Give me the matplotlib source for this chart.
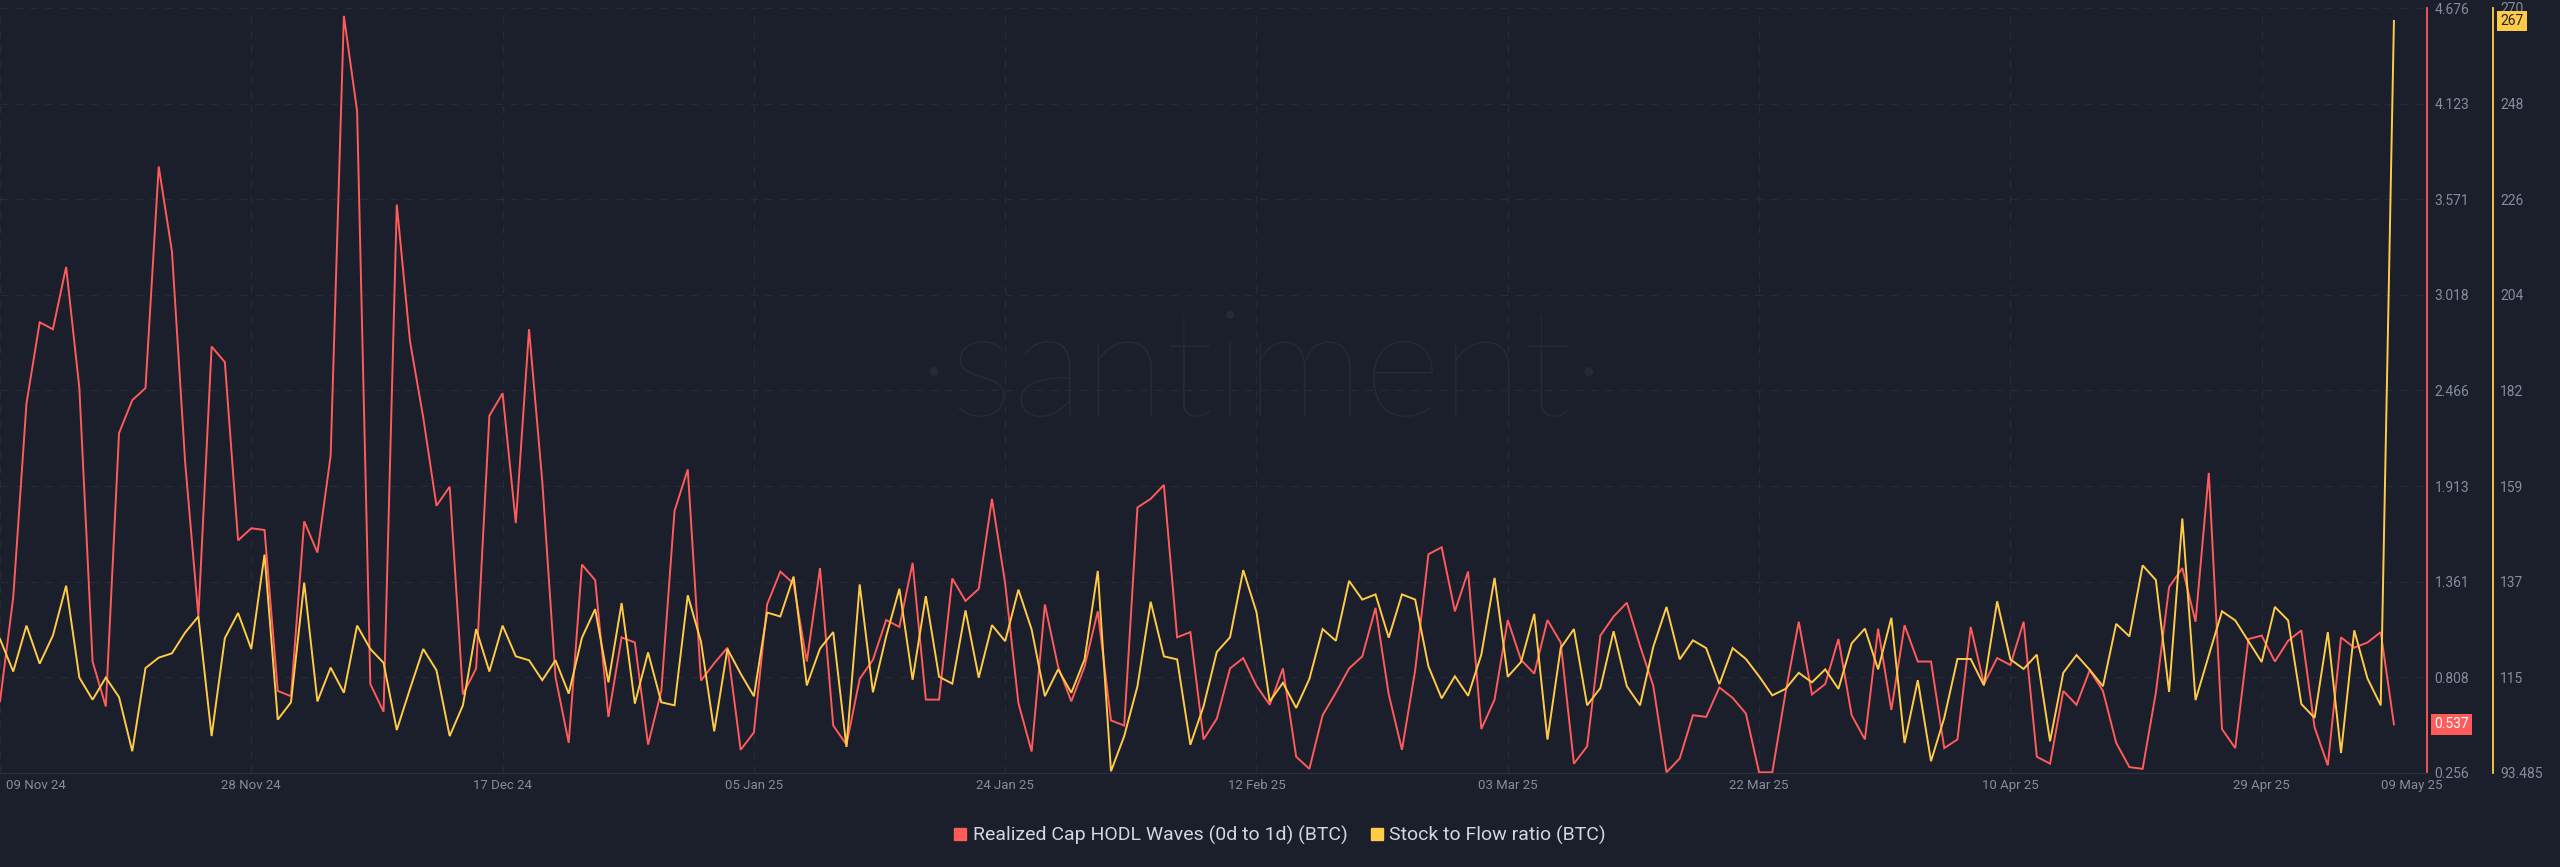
import matplotlib
matplotlib.use('Agg')
import matplotlib.pyplot as plt
from matplotlib.lines import Line2D
from matplotlib.transforms import blended_transform_factory, offset_copy
import numpy as np
import pandas as pd

# ---------------- data ----------------
start_date = '2024-11-09'

hodl_0d_1d = [
    0.67, 1.27, 2.39, 2.86, 2.82, 3.18, 2.48, 0.90, 0.64, 2.22,
    2.41, 2.48, 3.76, 3.27, 2.05, 1.16, 2.72, 2.63, 1.60, 1.67,
    1.66, 0.73, 0.70, 1.71, 1.53, 2.09, 4.63, 4.08, 0.77, 0.61,
    3.54,
    2.75, 2.31, 1.80, 1.91, 0.71, 0.86, 2.32, 2.45, 1.70, 2.82,
    1.94, 0.81, 0.43, 1.46, 1.37, 0.58, 1.04, 1.01, 0.42, 0.73,
    1.77, 2.01, 0.79, 0.89, 0.98, 0.39, 0.49, 1.23, 1.42, 1.35,
    0.90,
    1.44, 0.53, 0.42, 0.80, 0.91, 1.14, 1.10, 1.47, 0.68, 0.68,
    1.38, 1.25, 1.32, 1.84, 1.35, 0.66, 0.38, 1.23, 0.87, 0.67,
    0.87, 1.19, 0.56, 0.53, 1.79, 1.84, 1.92, 1.04, 1.07, 0.45,
    0.57, 0.86, 0.92, 0.76, 0.65, 0.86, 0.35, 0.28, 0.59, 0.72,
    0.86, 0.93, 1.21, 0.71, 0.39, 0.85, 1.52, 1.56, 1.19, 1.42,
    0.51, 0.68, 1.14, 0.91, 0.83, 1.14, 1.01, 0.31, 0.41, 1.05,
    1.16, 1.24, 0.99, 0.76, 0.26, 0.34, 0.59, 0.58, 0.75, 0.69,
    0.60, 0.26, 0.26, 0.72, 1.13, 0.71, 0.77, 1.03, 0.59, 0.45,
    1.09, 0.62, 1.11, 0.90, 0.90, 0.40, 0.45, 1.10, 0.77, 0.92,
    0.88,
    1.13, 0.35, 0.31, 0.73, 0.65, 0.85, 0.73, 0.43, 0.29, 0.28,
    0.72, 1.33, 1.44, 1.13, 1.99, 0.51, 0.40, 1.03, 1.05, 0.90,
    1.02, 1.08, 0.52, 0.30, 1.04, 0.98, 1.01, 1.07, 0.537,
]

stock_to_flow = [
    124.4, 116.9, 127.5, 118.7, 125.2, 136.7, 115.5, 110.4, 115.5, 111.0,
    98.5, 117.7, 120.1, 121.1, 125.9, 129.6, 102.0, 124.6, 130.4, 122.1,
    143.9, 105.8, 109.8, 137.4, 110.0, 117.8, 112.0, 127.5, 122.1, 118.9,
    103.4,
    112.9, 122.1, 117.2, 102.0, 109.1, 126.7, 116.9, 127.5, 120.4, 119.5,
    114.9, 119.5, 111.8, 124.7, 131.3, 114.4, 132.7, 109.5, 121.3, 109.8,
    109.1, 134.5, 123.8, 103.1, 122.1, 116.4, 111.2, 130.5, 129.6, 138.8,
    113.7,
    122.2, 126.0, 99.5, 137.0, 112.1, 125.0, 136.0, 115.0, 134.3, 115.7,
    114.1, 131.0, 115.5, 127.6, 123.9, 135.8, 126.6, 111.2, 117.4, 112.0,
    119.7, 140.1, 93.9, 102.0, 113.5, 133.0, 120.4, 119.7, 100.0, 108.9,
    121.4, 124.8, 140.3, 130.6, 110.0, 114.3, 108.5, 115.2, 126.7, 124.0,
    137.8, 133.5, 134.7, 124.7, 134.7, 133.5, 118.1, 110.7, 115.8, 111.3,
    120.8, 138.5, 115.7, 119.1, 130.2, 101.2, 122.3, 126.7, 109.1, 113.1,
    126.2, 113.5, 109.1, 122.6, 131.8, 119.7, 124.1, 122.3, 114.0, 122.3,
    119.8, 115.8, 111.4, 112.9, 116.6, 114.4, 117.4, 112.9, 123.4, 126.8,
    117.4, 129.3, 100.4, 114.9, 96.2, 106.2, 119.8, 119.8, 113.7, 133.1,
    119.7,
    117.5, 120.8, 100.8, 116.6, 120.7, 117.3, 113.5, 127.9, 125.0, 141.4,
    138.0, 112.2, 152.2, 110.3, 120.6, 130.8, 128.7, 123.9, 119.1, 131.8,
    128.7, 109.4, 106.2, 126.0, 98.1, 126.4, 115.3, 109.1, 267.0,
]

xtick_dates = ['2024-11-09', '2024-11-28', '2024-12-17', '2025-01-05',
               '2025-01-24', '2025-02-12', '2025-03-03', '2025-03-22',
               '2025-04-10', '2025-04-29', '2025-05-09']
xtick_labels = ['09 Nov 24', '28 Nov 24', '17 Dec 24', '05 Jan 25',
                '24 Jan 25', '12 Feb 25', '03 Mar 25', '22 Mar 25',
                '10 Apr 25', '29 Apr 25', '09 May 25']
red_tick_labels = ['0.256', '0.808', '1.361', '1.913', '2.466',
                   '3.018', '3.571', '4.123', '4.676']
yellow_tick_labels = ['93.485', '115', '137', '159', '182',
                      '204', '226', '248', '270']
red_range = (0.256, 4.676)
yellow_range = (93.485, 270.0)
series_names = ['Realized Cap HODL Waves (0d to 1d) (BTC)',
                'Stock to Flow ratio (BTC)']

dates = pd.date_range(start_date, periods=len(hodl_0d_1d), freq='D')
xt = pd.to_datetime(xtick_dates)

# ---------------- style ----------------
BG = '#1b1e2b'
RED = '#ff5b5b'
YEL = '#ffcb47'
GRID = '#262a3b'
TICK = '#858c9f'
LEG = '#d3d6de'

plt.rcParams['font.family'] = ['Roboto', 'DejaVu Sans']

W, H = 2560, 867
fig = plt.figure(figsize=(W / 100, H / 100), dpi=100, facecolor=BG)
left_px, right_px, top_px, bottom_px = 0, 2427, 8, 773
ax = fig.add_axes([left_px / W, 1 - bottom_px / H,
                   (right_px - left_px) / W, (bottom_px - top_px) / H])
ax.set_facecolor(BG)

# watermark
ax.text(0.5196, 0.52, '\u00b7santiment\u00b7', transform=ax.transAxes,
        ha='center', va='center', fontsize=108, color='#252938',
        family=['Lato', 'DejaVu Sans'], fontweight='light', zorder=0.5)

# red series
ax.plot(dates, hodl_0d_1d, color=RED, lw=1.4, zorder=3,
        solid_joinstyle='miter')
ax.set_ylim(*red_range)
ax.set_xlim(dates[0], dates[0] + pd.Timedelta(days=183.5))

ax.grid(axis='y', color=GRID, linestyle=(0, (6, 6)), lw=0.9, zorder=1)
for d in xt[:-1]:
    ax.axvline(d, color=GRID, linestyle=(0, (6, 6)), lw=0.9, zorder=1)

ax.set_xticks(xt, xtick_labels)
ax.tick_params(axis='x', length=0, pad=4.5, labelsize=9.5, labelcolor=TICK)

for s in ['top', 'left']:
    ax.spines[s].set_visible(False)
ax.spines['right'].set_color(RED)
ax.spines['right'].set_linewidth(1.3)
ax.spines['bottom'].set_color('#2a2e3f')
ax.spines['bottom'].set_linewidth(1.0)

# yellow series
ax2 = ax.twinx()
ax2.plot(dates, stock_to_flow, color=YEL, lw=1.4, zorder=3,
         solid_joinstyle='miter')
ax2.set_ylim(*yellow_range)
ax2.set_yticks(np.linspace(yellow_range[0], yellow_range[1],
                           len(yellow_tick_labels)), yellow_tick_labels)
ax2.tick_params(axis='y', length=0, pad=5, labelsize=10, labelcolor=TICK)
for s in ['top', 'left', 'bottom']:
    ax2.spines[s].set_visible(False)
ax2.spines['right'].set_position(('outward', 66 * 0.72))
ax2.spines['right'].set_color(YEL)
ax2.spines['right'].set_linewidth(1.3)

# red axis ticks on the right (after twinx, which moves them left)
ax.yaxis.tick_right()
ax.yaxis.set_label_position('right')
ax.set_yticks(np.linspace(red_range[0], red_range[1], len(red_tick_labels)),
              red_tick_labels)
ax.tick_params(axis='y', which='both', left=False, labelleft=False,
               right=False, labelright=True, length=0, pad=5.5,
               labelsize=10, labelcolor=TICK)

# x tick label alignment tweaks
tls = ax.get_xticklabels()
tls[0].set_ha('left')
tls[0].set_transform(offset_copy(tls[0].get_transform(), fig=fig, x=6, y=0, units='dots'))
tls[-1].set_transform(offset_copy(tls[-1].get_transform(), fig=fig, x=18, y=0, units='dots'))

# last value labels
tr1 = blended_transform_factory(ax.transAxes, ax.transData)
ax.annotate(f'{hodl_0d_1d[-1]:.3f}', xy=(1, hodl_0d_1d[-1]), xycoords=tr1,
            xytext=(7, 0), textcoords='offset pixels', ha='left', va='center',
            fontsize=10, color='white', annotation_clip=False, zorder=10,
            bbox=dict(boxstyle='square,pad=0.25', fc=RED, ec='none'))
tr2 = blended_transform_factory(ax2.transAxes, ax2.transData)
ax2.annotate(f'{stock_to_flow[-1]:.0f}', xy=(1, stock_to_flow[-1]), xycoords=tr2,
             xytext=(73, 0), textcoords='offset pixels', ha='left', va='center',
             fontsize=10, color=BG, annotation_clip=False, zorder=10,
             bbox=dict(boxstyle='square,pad=0.25', fc=YEL, ec='none'))

# legend
handles = [Line2D([], [], marker='s', linestyle='none', color=RED, markersize=8),
           Line2D([], [], marker='s', linestyle='none', color=YEL, markersize=8)]
fig.legend(handles, series_names, loc='center',
           bbox_to_anchor=(0.5, 1 - 835 / H), ncol=2, frameon=False,
           fontsize=14, labelcolor=LEG, handlelength=0.6,
           handletextpad=0.35, columnspacing=1.2)

fig.savefig('out.png', dpi=100, facecolor=BG)
